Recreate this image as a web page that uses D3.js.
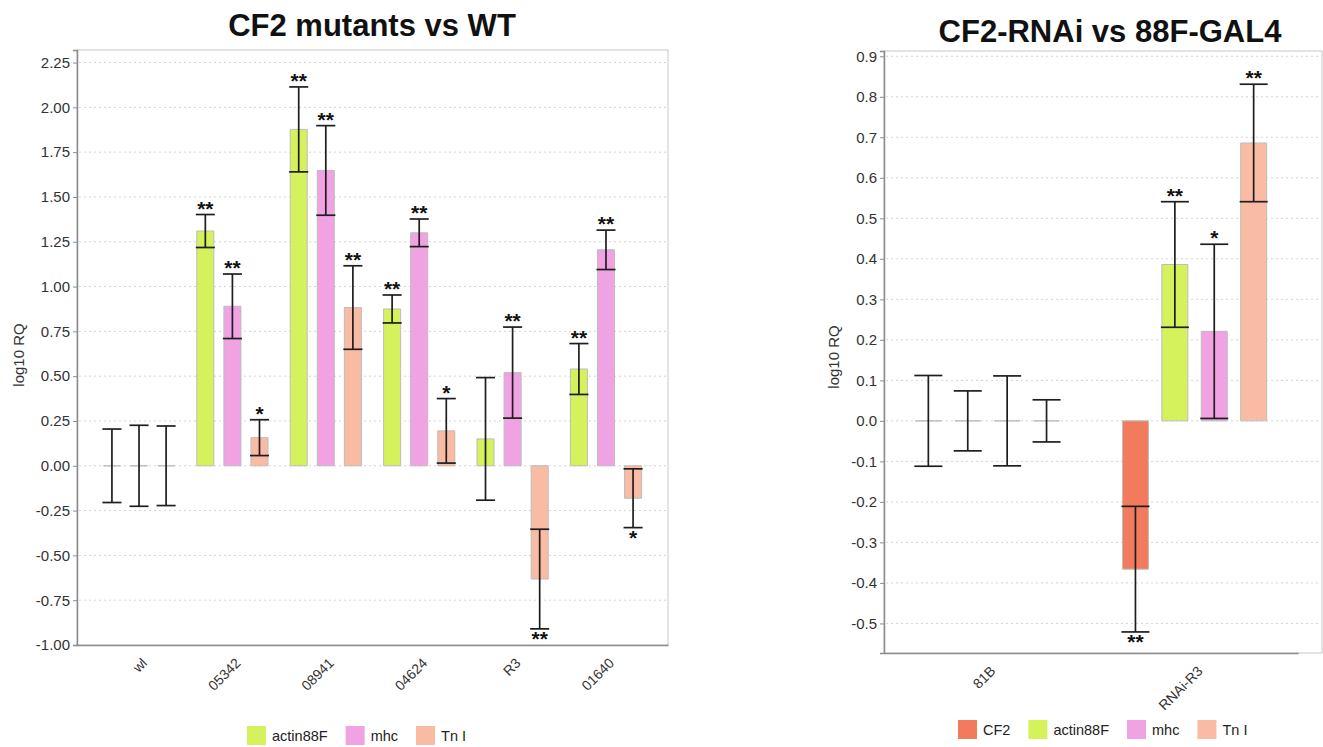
<!DOCTYPE html>
<html>
<head>
<meta charset="utf-8">
<script src="https://cdn.jsdelivr.net/npm/d3@7"></script>
<style>
  body { margin: 0; background: #fff; }
  svg { display: block; font-family: "Liberation Sans", Arial, sans-serif; }
  .tick text { fill: #333; }
</style>
</head>
<body>
<script>
// left panel: CF2 mutants vs WT
var mutantGroups = ['wl', '05342', '08941', '04624', 'R3', '01640'];
var mutantGenes = ['actin88F', 'mhc', 'Tn I'];
var mutantActin = [0, 1.31, 1.877, 0.875, 0.15, 0.54];
var mutantActinErr = [0.205, 0.092, 0.237, 0.078, 0.342, 0.142];
var mutantActinSig = ['', '**', '**', '**', '', '**'];
var mutantMhc = [0, 0.89, 1.648, 1.30, 0.52, 1.205];
var mutantMhcErr = [0.226, 0.18, 0.25, 0.077, 0.254, 0.11];
var mutantMhcSig = ['', '**', '**', '**', '**', '**'];
var mutantTnI = [0, 0.157, 0.883, 0.195, -0.632, -0.181];
var mutantTnIErr = [0.222, 0.1, 0.233, 0.18, 0.278, 0.164];
var mutantTnISig = ['', '*', '**', '*', '**', '*'];
var mutantTicks = [-1, -0.75, -0.5, -0.25, 0, 0.25, 0.5, 0.75, 1, 1.25, 1.5, 1.75, 2, 2.25];

// right panel: CF2-RNAi vs 88F-GAL4
var rnaiGroups = ['81B', 'RNAi-R3'];
var rnaiGenes = ['CF2', 'actin88F', 'mhc', 'Tn I'];
var rnaiCF2 = [0, -0.366];
var rnaiCF2Err = [0.112, 0.155];
var rnaiCF2Sig = ['', '**'];
var rnaiActin = [0, 0.386];
var rnaiActinErr = [0.074, 0.155];
var rnaiActinSig = ['', '**'];
var rnaiMhc = [0, 0.221];
var rnaiMhcErr = [0.111, 0.215];
var rnaiMhcSig = ['', '*'];
var rnaiTnI = [0, 0.686];
var rnaiTnIErr = [0.052, 0.145];
var rnaiTnISig = ['', '**'];
var rnaiTicks = [-0.5, -0.4, -0.3, -0.2, -0.1, 0, 0.1, 0.2, 0.3, 0.4, 0.5, 0.6, 0.7, 0.8, 0.9];

var geneColors = {
  'CF2': '#f27b5d',
  'actin88F': '#d5f25c',
  'mhc': '#f0a2e3',
  'Tn I': '#f9bba3'
};

var svg = d3.select('body').append('svg')
  .attr('width', 1323)
  .attr('height', 747);

function drawPanel(p) {
  var y = d3.scaleLinear().domain(p.domain).range([p.bottom, p.top]);

  var x0 = d3.scaleBand()
    .domain(p.groups)
    .range([p.left, p.groupEnd])
    .paddingInner(p.padInner)
    .paddingOuter(p.padOuter);

  var x1 = d3.scaleBand()
    .domain(p.genes)
    .range([0, x0.bandwidth()])
    .paddingInner(p.barPad)
    .paddingOuter(p.barPad / 2);

  var g = svg.append('g');

  // frame
  g.append('rect')
    .attr('x', p.left).attr('y', p.top)
    .attr('width', p.right - p.left).attr('height', p.bottom - p.top)
    .attr('fill', 'none').attr('stroke', '#c8c8c8');

  // grid
  g.selectAll('.grid')
    .data(p.ticks.filter(function(t) { return t !== p.domain[0]; }))
    .enter().append('line')
    .attr('x1', p.left + 2).attr('x2', p.right - 2)
    .attr('y1', function(d) { return y(d); })
    .attr('y2', function(d) { return y(d); })
    .attr('stroke', '#d4d4d4')
    .attr('stroke-dasharray', '2,3');

  // bars
  var rows = [];
  p.genes.forEach(function(gene, i) {
    p.groups.forEach(function(grp, j) {
      rows.push({ gene: gene, group: grp, v: p.values[i][j], e: p.errs[i][j], sig: p.sigs[i][j] });
    });
  });

  var bw = x1.bandwidth();
  var bx = function(d) { return x0(d.group) + x1(d.gene); };

  g.selectAll('.bar')
    .data(rows)
    .enter().append('path')
    .attr('d', function(d) {
      var x = bx(d);
      return 'M' + x + ',' + y(0) + 'H' + (x + bw) + 'V' + y(d.v) + 'H' + x + 'Z';
    })
    .attr('fill', function(d) { return geneColors[d.gene]; })
    .attr('stroke', '#bdbdbd')
    .attr('stroke-width', 1);

  // error bars
  var eb = g.selectAll('.err')
    .data(rows)
    .enter().append('g')
    .attr('stroke', '#1e1e1e')
    .attr('stroke-width', 1.7);

  eb.append('line')
    .attr('x1', function(d) { return bx(d) + bw / 2; })
    .attr('x2', function(d) { return bx(d) + bw / 2; })
    .attr('y1', function(d) { return y(d.v + d.e); })
    .attr('y2', function(d) { return y(d.v - d.e); });
  eb.append('line')
    .attr('x1', function(d) { return bx(d) - 1; })
    .attr('x2', function(d) { return bx(d) + bw + 1; })
    .attr('y1', function(d) { return y(d.v + d.e); })
    .attr('y2', function(d) { return y(d.v + d.e); });
  eb.append('line')
    .attr('x1', function(d) { return bx(d) - 1; })
    .attr('x2', function(d) { return bx(d) + bw + 1; })
    .attr('y1', function(d) { return y(d.v - d.e); })
    .attr('y2', function(d) { return y(d.v - d.e); });

  // significance stars
  g.selectAll('.sig')
    .data(rows.filter(function(d) { return d.sig; }))
    .enter().append('text')
    .attr('x', function(d) { return bx(d) + bw / 2; })
    .attr('y', function(d) {
      return d.v >= 0 ? y(d.v + d.e) + 1 : y(d.v - d.e) + 17.5;
    })
    .attr('text-anchor', 'middle')
    .style('font-size', '21px')
    .style('font-weight', 'bold')
    .attr('fill', '#111')
    .text(function(d) { return d.sig; });

  // axes
  var yAxis = g.append('g')
    .attr('transform', 'translate(' + p.left + ',0)')
    .call(d3.axisLeft(y).tickValues(p.ticks).tickSize(4)
      .tickFormat(function(d) { return d.toFixed(p.digits); }));
  yAxis.selectAll('text').style('font-size', '15px');
  yAxis.select('.domain').attr('stroke', '#8c8c8c').attr('stroke-width', 1.5);
  yAxis.selectAll('.tick line').attr('stroke', '#8c8c8c');

  var xAxis = g.append('g')
    .attr('transform', 'translate(0,' + p.bottom + ')')
    .call(d3.axisBottom(x0).tickSize(0).tickSizeOuter(0));
  xAxis.select('.domain').attr('stroke', '#8c8c8c').attr('stroke-width', 1.5);
  xAxis.selectAll('text')
    .attr('x', 9).attr('y', 19).attr('dy', 0)
    .attr('text-anchor', 'end')
    .attr('transform', 'rotate(-45 9 19)')
    .style('font-size', '14px');

  // title and axis label
  svg.append('text')
    .attr('x', p.titleX).attr('y', p.titleY)
    .attr('text-anchor', 'middle')
    .style('font-size', '31px').style('font-weight', 'bold')
    .attr('fill', '#111')
    .text(p.title);

  svg.append('text')
    .attr('transform', 'translate(' + p.labelX + ',' + p.labelY + ') rotate(-90)')
    .attr('text-anchor', 'middle')
    .attr('dy', '0.35em')
    .style('font-size', '15px')
    .attr('fill', '#333')
    .text('log10 RQ');

  // legend
  var lx = p.legendX;
  p.genes.forEach(function(gene) {
    svg.append('rect')
      .attr('x', lx).attr('y', p.legendY)
      .attr('width', 19).attr('height', 19)
      .attr('fill', geneColors[gene]);
    var t = svg.append('text')
      .attr('x', lx + 25).attr('y', p.legendY + 15)
      .style('font-size', '14.5px')
      .attr('fill', '#222')
      .text(gene);
    lx += 25 + t.node().getComputedTextLength() + 18;
  });
}

drawPanel({
  left: 77, top: 50, right: 668, bottom: 645, groupEnd: 668,
  groups: mutantGroups, genes: mutantGenes,
  values: [mutantActin, mutantMhc, mutantTnI],
  errs: [mutantActinErr, mutantMhcErr, mutantTnIErr],
  sigs: [mutantActinSig, mutantMhcSig, mutantTnISig],
  domain: [-1, 2.32], ticks: mutantTicks, digits: 2,
  padInner: 0.13, padOuter: 0.229, barPad: 0.37,
  title: 'CF2 mutants vs WT', titleX: 372, titleY: 36,
  labelX: 19, labelY: 355,
  legendX: 247, legendY: 726
});

drawPanel({
  left: 884, top: 51, right: 1322, bottom: 653, groupEnd: 1298,
  groups: rnaiGroups, genes: rnaiGenes,
  values: [rnaiCF2, rnaiActin, rnaiMhc, rnaiTnI],
  errs: [rnaiCF2Err, rnaiActinErr, rnaiMhcErr, rnaiTnIErr],
  sigs: [rnaiCF2Sig, rnaiActinSig, rnaiMhcSig, rnaiTnISig],
  domain: [-0.573, 0.913], ticks: rnaiTicks, digits: 1,
  padInner: 0.239, padOuter: 0.119, barPad: 0.34,
  title: 'CF2-RNAi vs 88F-GAL4', titleX: 1110, titleY: 42,
  labelX: 834, labelY: 357,
  legendX: 958, legendY: 720
});
</script>
</body>
</html>
